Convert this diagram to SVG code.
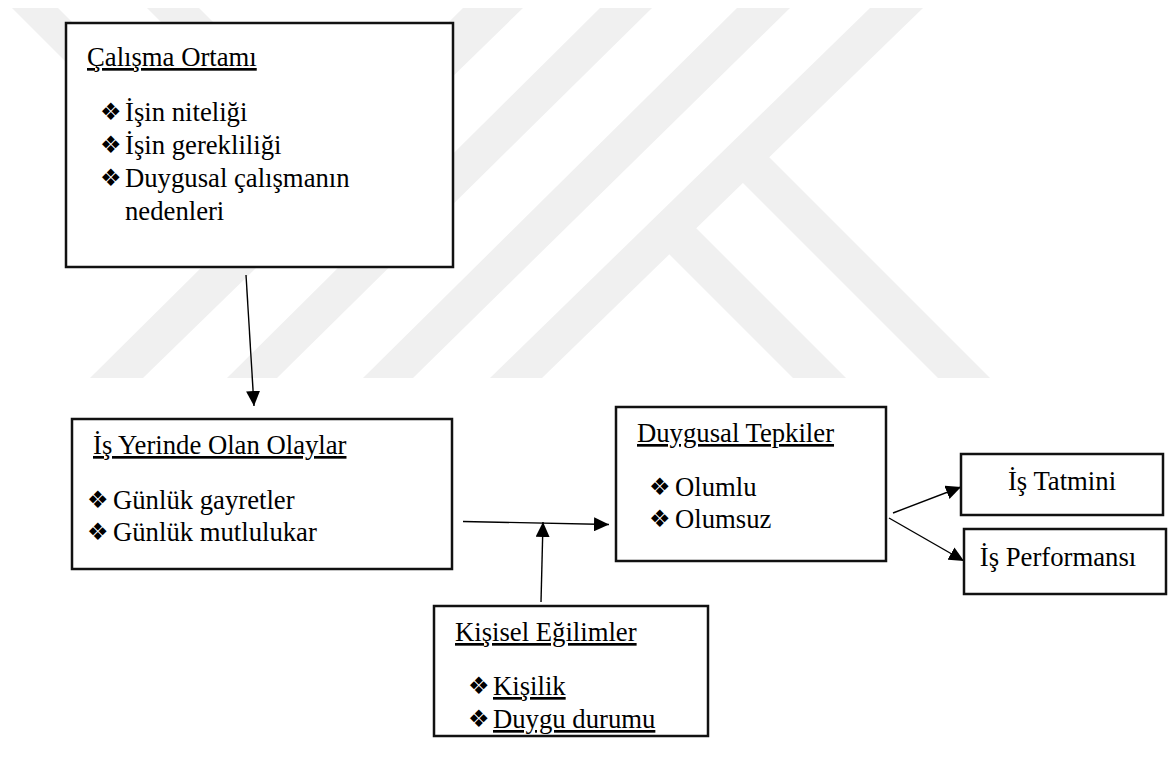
<svg xmlns="http://www.w3.org/2000/svg" width="1168" height="763" viewBox="0 0 1168 763">
<style>
.wm{fill:#f0f0f0;stroke:none}
.box{fill:#ffffff;stroke:#111111;stroke-width:2.5}
.t{font-family:"Liberation Serif","Times New Roman",serif;font-size:26.7px;fill:#000000}
.u{text-decoration:underline}
.b{font-family:"DejaVu Sans",sans-serif;font-size:24px;fill:#000000}
.c{fill:none;stroke:#000000;stroke-width:1.4}
</style>
<defs>
<marker id="ah" markerUnits="userSpaceOnUse" markerWidth="16" markerHeight="14" refX="15" refY="7" orient="auto">
<path d="M0,0 L15,7 L0,14 Z" fill="#000000"/>
</marker>
</defs>
<rect width="1168" height="763" fill="#ffffff"/>
<g id="watermark">
<polygon class="wm" points="463,8 523,8 143,378 90,378"/>
<polygon class="wm" points="600,8 652,8 277,378 227,378"/>
<polygon class="wm" points="737,8 790,8 413,378 363,378"/>
<polygon class="wm" points="870,8 923,8 542,378 490,378"/>
<polygon class="wm" points="12,8 58,8 274.6,224.6 251.5,247.5"/>
<polygon class="wm" points="147,8 199,8 411,220 385,246"/>
<polygon class="wm" points="683.3,215.3 846,378 793,378 656.5,241.5"/>
<polygon class="wm" points="756.3,144.3 990,378 938,378 730,170"/>
</g>
<g id="connectors">
<line class="c" x1="246" y1="275" x2="254" y2="406" marker-end="url(#ah)"/>
<line class="c" x1="463" y1="521.5" x2="609" y2="524.5" marker-end="url(#ah)"/>
<line class="c" x1="541" y1="602" x2="543" y2="522" marker-end="url(#ah)"/>
<line class="c" x1="893" y1="513" x2="961" y2="487" marker-end="url(#ah)"/>
<line class="c" x1="889" y1="518" x2="964" y2="561" marker-end="url(#ah)"/>
</g>
<g id="calisma-ortami">
<rect class="box" x="66" y="23" width="387" height="244"/>
<text class="t u" x="87" y="66">Çalışma Ortamı</text>
<text class="b" x="100" y="120">❖</text>
<text class="t" x="125" y="121">İşin niteliği</text>
<text class="b" x="100" y="153">❖</text>
<text class="t" x="125" y="154">İşin gerekliliği</text>
<text class="b" x="100" y="186">❖</text>
<text class="t" x="125" y="187">Duygusal çalışmanın</text>
<text class="t" x="125" y="220">nedenleri</text>
</g>
<g id="is-yerinde">
<rect class="box" x="72" y="419" width="380" height="150"/>
<text class="t u" x="93" y="454">İş Yerinde Olan Olaylar</text>
<text class="b" x="87" y="508">❖</text>
<text class="t" x="113" y="509">Günlük gayretler</text>
<text class="b" x="87" y="540">❖</text>
<text class="t" x="113" y="541">Günlük mutlulukar</text>
</g>
<g id="duygusal-tepkiler">
<rect class="box" x="616" y="407" width="270" height="154"/>
<text class="t u" x="637" y="442">Duygusal Tepkiler</text>
<text class="b" x="649" y="495">❖</text>
<text class="t" x="675" y="496">Olumlu</text>
<text class="b" x="649" y="527">❖</text>
<text class="t" x="675" y="528">Olumsuz</text>
</g>
<g id="kisisel-egilimler">
<rect class="box" x="434" y="606" width="274" height="130"/>
<text class="t u" x="455" y="641">Kişisel Eğilimler</text>
<text class="b" x="468" y="694">❖</text>
<text class="t u" x="493" y="695">Kişilik</text>
<text class="b" x="468" y="727">❖</text>
<text class="t u" x="493" y="728">Duygu durumu</text>
</g>
<g id="is-tatmini">
<rect class="box" x="961" y="454" width="202" height="61"/>
<text class="t" x="1062" y="490" text-anchor="middle">İş Tatmini</text>
</g>
<g id="is-performansi">
<rect class="box" x="964" y="529" width="202" height="65"/>
<text class="t" x="1058" y="566" text-anchor="middle">İş Performansı</text>
</g>
</svg>
